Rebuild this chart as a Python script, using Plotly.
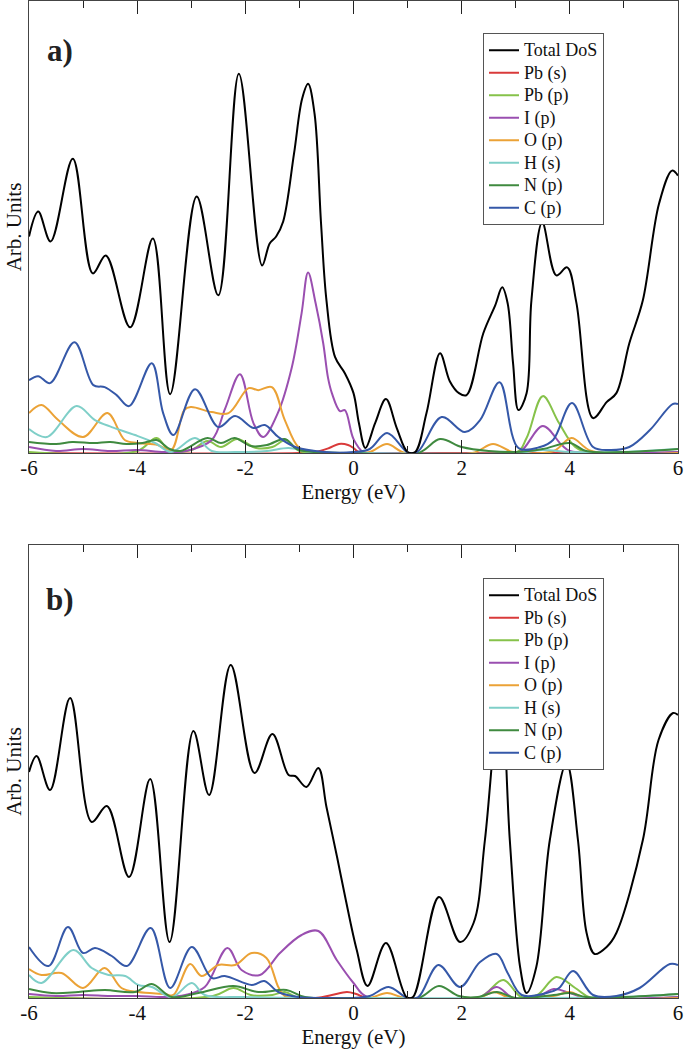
import plotly.graph_objects as go

# ---------------- Panel a) data (energy in eV, DoS in arbitrary units) ----------------
a_tot_E = [-6.0, -5.83, -5.6, -5.19, -4.82, -4.58, -4.13, -3.71, -3.39, -2.9, -2.5, -2.12, -1.69,
           -1.55, -1.43, -1.3, -1.1, -0.95, -0.84, -0.72, -0.6, -0.5, -0.34, -0.16, 0.0, 0.1, 0.22,
           0.4, 0.6, 0.8, 1.0, 1.14, 1.35, 1.6, 1.78, 1.95, 2.09, 2.4, 2.62, 2.75, 2.85, 2.95, 3.05,
           3.2, 3.29, 3.49, 3.75, 3.95, 4.12, 4.43, 4.68, 4.86, 5.1, 5.35, 5.65, 5.89, 6.0]
a_tot_v = [217, 242, 212, 295, 180, 198, 126, 215, 59, 257, 158, 380, 188,
           210, 217, 232, 300, 355, 370, 340, 230, 153, 96, 80, 60, 30, 5,
           30, 54, 25, 1, 1, 40, 100, 72, 60, 58, 120, 148, 166, 150, 90, 43,
           60, 153, 231, 178, 186, 151, 35, 51, 60, 110, 153, 250, 283, 278]

a_pbs_E = [-6.0, -1.0, -0.7, -0.45, -0.27, -0.1, 0.0, 0.12, 0.5, 6.0]
a_pbs_v = [0, 0, 1, 5, 9, 8, 5, 0, 0, 0]

a_pbp_E = [-6.0, -4.0, -3.64, -3.4, -3.0, -2.7, -2.45, -2.15, -1.8, -1.5, -1.25, -1.0, -0.5,
           3.0, 3.2, 3.5, 3.8, 4.1, 4.4, 6.0]
a_pbp_v = [1, 2, 15, 2, 3, 12, 6, 14, 5, 6, 13, 2, 0,
           0, 15, 57, 30, 6, 0, 1]

a_ip_E = [-6.0, -5.5, -5.0, -4.5, -4.0, -3.5, -3.1, -2.62, -2.37, -2.1, -1.85, -1.67, -1.4,
          -1.14, -0.96, -0.84, -0.7, -0.56, -0.47, -0.4, -0.25, -0.16, 0.0, 0.18, 0.5,
          2.9, 3.1, 3.5, 3.85, 4.0, 4.5, 6.0]
a_ip_v = [6, 2, 4, 2, 3, 1, 2, 13, 45, 79, 30, 16, 40,
          86, 140, 181, 150, 110, 75, 60, 42, 43, 14, 1, 0,
          0, 2, 27, 8, 2, 0, 1]

a_op_E = [-6.0, -5.77, -5.46, -5.0, -4.55, -4.23, -3.99, -3.62, -3.37, -3.13, -3.01, -2.62, -2.31,
          -1.94, -1.76, -1.51, -1.27, -1.02, -0.78, 0.0, 0.3, 0.62, 0.95, 2.2, 2.58, 2.95,
          3.7, 4.03, 4.4, 6.0]
a_op_v = [40, 48, 33, 16, 40, 13, 10, 8, 3, 43, 46, 41, 40,
          65, 63, 66, 33, 6, 1, 0, 1, 9, 0, 0, 9, 1,
          2, 15, 2, 0]

a_hs_E = [-6.0, -5.67, -5.12, -4.78, -4.47, -4.04, -3.67, -3.37, -2.93, -2.62, -2.19, -1.6, -1.2,
          -0.8, 0.0, 3.0, 3.5, 4.0, 5.0, 6.0]
a_hs_v = [24, 16, 47, 33, 26, 18, 10, 1, 15, 2, 1, 2, 5,
          1, 0, 0, 3, 1, 1, 4]

a_np_E = [-6.0, -5.5, -5.2, -4.8, -4.5, -4.2, -3.9, -3.64, -3.4, -3.2, -2.7, -2.45, -2.2, -1.9,
          -1.6, -1.27, -1.05, -0.7, 0.0, 1.2, 1.6, 2.0, 2.5, 3.0, 3.5, 4.0, 4.3, 5.0, 6.0]
a_np_v = [11, 9, 11, 10, 11, 9, 10, 13, 4, 2, 15, 10, 15, 7,
          8, 14, 4, 1, 0, 0, 14, 6, 2, 1, 4, 10, 2, 1, 4]

a_cp_E = [-6.0, -5.83, -5.61, -5.16, -4.81, -4.6, -4.38, -4.15, -3.73, -3.52, -3.33, -2.93, -2.5,
          -2.19, -1.85, -1.64, -1.39, -1.08, -0.53, 0.0, 0.3, 0.62, 1.02, 1.2, 1.63, 2.06, 2.34,
          2.7, 3.05, 3.45, 3.69, 4.04, 4.43, 4.74, 5.1, 5.48, 5.9, 6.0]
a_cp_v = [73, 77, 70, 111, 68, 66, 58, 47, 90, 40, 18, 64, 26,
          37, 25, 28, 16, 6, 1, 1, 4, 20, 0, 2, 36, 21, 33,
          71, 5, 6, 13, 50, 6, 3, 6, 23, 49, 49]

# ---------------- Panel b) data ----------------
b_tot_E = [-6.0, -5.86, -5.61, -5.24, -4.84, -4.56, -4.15, -3.76, -3.4, -2.96, -2.67, -2.27, -1.83,
           -1.5, -1.2, -1.08, -0.87, -0.65, -0.5, -0.3, -0.15, 0.06, 0.26, 0.6, 0.98, 1.1, 1.58,
           1.97, 2.22, 2.43, 2.72, 2.89, 3.08, 3.2, 3.38, 3.63, 3.94, 4.15, 4.31, 4.46, 4.68,
           4.86, 5.35, 5.64, 5.91, 6.0]
b_tot_v = [226, 242, 208, 300, 176, 192, 121, 219, 56, 267, 203, 333, 225,
           264, 223, 222, 211, 230, 191, 140, 100, 48, 12, 55, 1, 1, 101,
           56, 75, 158, 310, 158, 31, 5, 31, 158, 235, 158, 65, 44, 51,
           65, 158, 258, 285, 283]

b_pbs_E = [-6.0, -0.7, -0.4, -0.12, 0.05, 0.25, 6.0]
b_pbs_v = [0, 0, 3, 6, 4, 0, 0]

b_pbp_E = [-6.0, -2.6, -2.22, -1.9, -1.5, -1.27, -1.0, 2.3, 2.77, 3.1, 3.4, 3.75, 4.1, 4.4, 6.0]
b_pbp_v = [1, 2, 10, 3, 3, 6, 0, 0, 18, 1, 3, 21, 10, 0, 1]

b_ip_E = [-6.0, -5.5, -5.0, -4.5, -4.0, -3.5, -3.11, -2.75, -2.33, -2.07, -1.73, -1.36, -0.96,
          -0.65, -0.31, 0.0, 0.25, 2.3, 2.65, 2.95, 3.4, 3.7, 4.0, 4.3, 6.0]
b_ip_v = [4, 2, 3, 2, 2, 1, 3, 11, 50, 28, 23, 45, 63,
          67, 38, 15, 1, 0, 11, 0, 1, 9, 5, 0, 1]

b_op_E = [-6.0, -5.77, -5.4, -5.0, -4.6, -4.29, -3.98, -3.49, -3.33, -3.02, -2.81, -2.5, -2.19,
          -1.88, -1.61, -1.39, -1.27, 0.0, 0.3, 0.62, 0.95, 2.3, 2.6, 2.9, 3.7, 4.0, 4.3, 6.0]
b_op_v = [29, 23, 25, 10, 30, 10, 6, 4, 3, 34, 22, 33, 33,
          45, 40, 11, 2, 0, 0, 5, 0, 0, 6, 0, 2, 6, 0, 0]

b_hs_E = [-6.0, -5.77, -5.18, -4.84, -4.53, -4.22, -3.98, -3.73, -3.36, -2.99, -2.75, -2.0, 0.0,
          5.0, 6.0]
b_hs_v = [23, 15, 48, 30, 23, 22, 13, 11, 1, 15, 3, 1, 0, 1, 4]

b_np_E = [-6.0, -5.58, -5.09, -4.6, -4.04, -3.73, -3.36, -2.87, -2.22, -1.76, -1.24, -0.9, 0.0,
          1.2, 1.58, 1.95, 2.3, 2.65, 3.0, 3.7, 4.0, 4.3, 5.0, 6.0]
b_np_v = [9, 5, 6, 8, 6, 14, 1, 5, 12, 6, 8, 1, 0,
          0, 12, 2, 1, 6, 0, 3, 5, 1, 1, 4]

b_cp_E = [-6.0, -5.64, -5.28, -5.0, -4.78, -4.47, -4.19, -3.75, -3.39, -2.99, -2.62, -2.38, -1.88,
          -1.65, -1.39, -1.02, -0.5, 0.0, 0.3, 0.65, 1.0, 1.2, 1.57, 1.97, 2.34, 2.65, 2.85, 3.11,
          3.57, 3.8, 4.06, 4.43, 4.86, 5.29, 5.85, 6.0]
b_cp_v = [51, 32, 71, 45, 50, 42, 32, 70, 10, 51, 20, 22, 13,
          17, 6, 1, 0, 0, 2, 11, 0, 1, 33, 11, 36, 44, 25, 3,
          5, 10, 27, 3, 2, 10, 34, 33]

x_tickvals = [-6, -4, -2, 0, 2, 4, 6]
x_ticktext = ["-6", "-4", "-2", "0", "2", "4", "6"]

names = ["Total DoS", "Pb (s)", "Pb (p)", "I (p)", "O (p)", "H (s)", "N (p)", "C (p)"]
colors = ["#000000", "#d93a3a", "#86c24a", "#9a4fb0", "#eba236", "#7fcfc8", "#3f8a3f", "#3558a8"]

panel_a = [(a_tot_E, a_tot_v), (a_pbs_E, a_pbs_v), (a_pbp_E, a_pbp_v), (a_ip_E, a_ip_v),
           (a_op_E, a_op_v), (a_hs_E, a_hs_v), (a_np_E, a_np_v), (a_cp_E, a_cp_v)]
panel_b = [(b_tot_E, b_tot_v), (b_pbs_E, b_pbs_v), (b_pbp_E, b_pbp_v), (b_ip_E, b_ip_v),
           (b_op_E, b_op_v), (b_hs_E, b_hs_v), (b_np_E, b_np_v), (b_cp_E, b_cp_v)]

SERIF = "Liberation Serif, Times New Roman, serif"

fig = go.Figure()
# partial DoS drawn first so the total lies on top; legend order kept via legendrank
for panel, xa, ya, leg in [(panel_a, "x", "y", "legend"), (panel_b, "x2", "y2", "legend2")]:
    order = list(range(1, 8)) + [0]
    for i in order:
        E, v = panel[i]
        fig.add_trace(go.Scatter(
            x=E, y=v, mode="lines",
            name='<span style="font-size:18px">' + names[i] + "</span>",
            line=dict(color=colors[i], width=2, shape="spline", smoothing=1.0),
            xaxis=xa, yaxis=ya, legend=leg, legendrank=i + 1,
        ))

H = 1056
top, bottom = 1, 58
plot_h = H - top - bottom
a_dom = [(998 - 453) / plot_h, 1.0]
b_dom = [0.0, 453 / plot_h]

xcommon = dict(
    range=[-6, 6], tickmode="array", tickvals=x_tickvals, ticktext=x_ticktext,
    ticks="inside", ticklen=13, tickwidth=1, tickcolor="#222",
    minor=dict(tickmode="linear", dtick=1, tick0=-6, ticks="inside", ticklen=7,
               tickwidth=1, tickcolor="#222"),
    showline=True, linecolor="#444", linewidth=1, mirror="ticks",
    showgrid=False, zeroline=False, automargin=False,
    ticklabeloverflow="allow", ticklabelstandoff=-4,
    tickfont=dict(family=SERIF, size=21, color="#111"),
    title=dict(text="Energy (eV)", font=dict(family=SERIF, size=21, color="#111"), standoff=0),
)
ycommon = dict(
    range=[0, 453], showticklabels=False, ticks="", showline=True, linecolor="#444",
    linewidth=1, mirror=True, showgrid=False, zeroline=False, automargin=False,
    title=dict(text="Arb. Units", font=dict(family=SERIF, size=21, color="#111"), standoff=0),
)

legcommon = dict(
    x=(483 - 29) / 649, xanchor="left", yanchor="top",
    bgcolor="white", bordercolor="#555", borderwidth=1,
    font=dict(family=SERIF, size=15, color="#111"),
    traceorder="normal", itemwidth=30,
)

fig.update_layout(
    width=685, height=H,
    margin=dict(l=29, r=7, t=top, b=bottom, autoexpand=False),
    paper_bgcolor="white", plot_bgcolor="white",
    xaxis=dict(domain=[0, 1], anchor="y", **xcommon),
    yaxis=dict(domain=a_dom, anchor="x", **ycommon),
    xaxis2=dict(domain=[0, 1], anchor="y2", **xcommon),
    yaxis2=dict(domain=b_dom, anchor="x2", **ycommon),
    legend=dict(y=1 - (33 - top) / plot_h, **legcommon),
    legend2=dict(y=1 - (578 - top) / plot_h, **legcommon),
    annotations=[
        dict(text="<b>a)</b>", x=(60 - 29) / 649, y=1 - (51 - top) / plot_h,
             xref="paper", yref="paper", xanchor="center", yanchor="middle",
             showarrow=False, font=dict(family=SERIF, size=31, color="#222")),
        dict(text="<b>b)</b>", x=(60 - 29) / 649, y=1 - (599 - top) / plot_h,
             xref="paper", yref="paper", xanchor="center", yanchor="middle",
             showarrow=False, font=dict(family=SERIF, size=31, color="#222")),
    ],
)

fig.write_html("out.html", config={"displayModeBar": False},
               post_script="document.body.style.margin='0';")
